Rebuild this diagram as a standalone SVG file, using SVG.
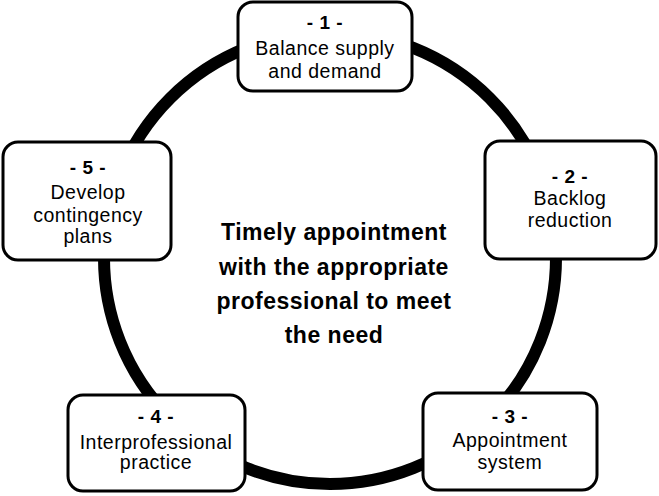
<svg xmlns="http://www.w3.org/2000/svg" width="659" height="496" viewBox="0 0 659 496">
<style>
.box{fill:#fff;stroke:#000;stroke-width:3}
.t{font-family:"Liberation Sans",Arial,sans-serif;font-size:19.5px;letter-spacing:0.5px;fill:#000;text-anchor:middle}
.n{font-weight:bold;font-size:19px}
.c{font-family:"Liberation Sans",Arial,sans-serif;font-size:23px;letter-spacing:0.5px;font-weight:bold;fill:#000;text-anchor:middle}
</style>
<rect width="659" height="496" fill="#fff"/>
<g id="connectors">
<circle cx="330" cy="258" r="226" fill="none" stroke="#000" stroke-width="12"/>
</g>
<g id="center">
<text class="c" x="334" y="240">Timely appointment</text>
<text class="c" x="334" y="275">with the appropriate</text>
<text class="c" x="334" y="309">professional to meet</text>
<text class="c" x="334" y="343">the need</text>
</g>
<g id="node1">
<rect class="box" x="238" y="2" width="174" height="89" rx="15"/>
<text class="t n" x="325" y="29">- 1 -</text>
<text class="t" x="325" y="55">Balance supply</text>
<text class="t" x="325" y="78">and demand</text>
</g>
<g id="node2">
<rect class="box" x="485" y="141" width="171" height="118" rx="15"/>
<text class="t n" x="570" y="183">- 2 -</text>
<text class="t" x="570" y="205">Backlog</text>
<text class="t" x="570" y="227">reduction</text>
</g>
<g id="node3">
<rect class="box" x="423" y="393" width="174" height="97" rx="15"/>
<text class="t n" x="510" y="423">- 3 -</text>
<text class="t" x="510" y="447">Appointment</text>
<text class="t" x="510" y="469">system</text>
</g>
<g id="node4">
<rect class="box" x="68" y="395" width="177" height="96" rx="15"/>
<text class="t n" x="156" y="423">- 4 -</text>
<text class="t" x="156" y="449">Interprofessional</text>
<text class="t" x="156" y="469">practice</text>
</g>
<g id="node5">
<rect class="box" x="3" y="142" width="168" height="118" rx="15"/>
<text class="t n" x="88" y="174">- 5 -</text>
<text class="t" x="88" y="199">Develop</text>
<text class="t" x="88" y="222">contingency</text>
<text class="t" x="88" y="243">plans</text>
</g>
</svg>
